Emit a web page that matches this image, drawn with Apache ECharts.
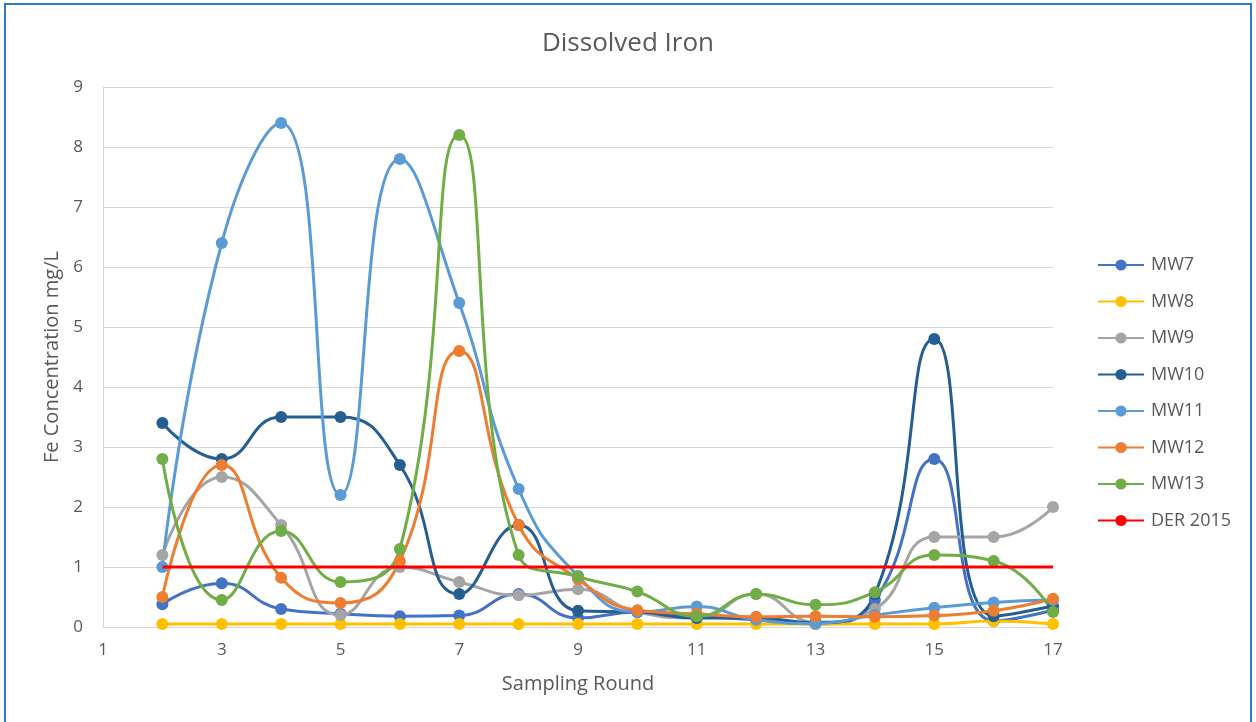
<!DOCTYPE html>
<html>
<head>
<meta charset="utf-8">
<script src="https://cdn.jsdelivr.net/npm/echarts@6/dist/echarts.min.js"></script>
<style>
html,body{margin:0;padding:0;background:#fff;}
#chart{width:1256px;height:722px;}
</style>
</head>
<body>
<div id="chart"></div>
<script>
// Data
var rounds = [2, 3, 4, 5, 6, 7, 8, 9, 10, 11, 12, 13, 14, 15, 16, 17];
var mw7  = [0.38, 0.73, 0.30, 0.22, 0.18, 0.19, 0.55, 0.15, 0.25, 0.18, 0.12, 0.05, 0.45, 2.8, 0.10, 0.28];
var mw8  = [0.05, 0.05, 0.05, 0.05, 0.05, 0.05, 0.05, 0.05, 0.05, 0.05, 0.05, 0.05, 0.05, 0.05, 0.10, 0.05];
var mw9  = [1.2, 2.5, 1.7, 0.2, 1.0, 0.75, 0.53, 0.63, 0.25, 0.15, 0.55, 0.08, 0.3, 1.5, 1.5, 2.0];
var mw10 = [3.4, 2.8, 3.5, 3.5, 2.7, 0.55, 1.7, 0.27, 0.25, 0.15, 0.15, 0.07, 0.55, 4.8, 0.18, 0.35];
var mw11 = [1.0, 6.4, 8.4, 2.2, 7.8, 5.4, 2.3, 0.85, 0.25, 0.34, 0.12, 0.06, 0.2, 0.32, 0.41, 0.45];
var mw12 = [0.5, 2.7, 0.82, 0.4, 1.1, 4.6, 1.7, 0.8, 0.28, 0.22, 0.17, 0.18, 0.17, 0.19, 0.27, 0.47];
var mw13 = [2.8, 0.45, 1.6, 0.75, 1.3, 8.2, 1.2, 0.84, 0.59, 0.18, 0.55, 0.37, 0.58, 1.2, 1.1, 0.25];
var der2015 = [1, 1, 1, 1, 1, 1, 1, 1, 1, 1, 1, 1, 1, 1, 1, 1];
var seriesNames = ['MW7', 'MW8', 'MW9', 'MW10', 'MW11', 'MW12', 'MW13', 'DER 2015'];
var xTicks = [1, 3, 5, 7, 9, 11, 13, 15, 17];

var colors = ['#4472C4', '#FFC000', '#A5A5A5', '#255E91', '#5B9BD5', '#ED7D31', '#70AD47', '#FF0000'];
var seriesData = [mw7, mw8, mw9, mw10, mw11, mw12, mw13, der2015];

function pairs(vals) {
  return rounds.map(function (r, i) { return [r, vals[i]]; });
}

var FONT = '"Open Sans", "Noto Sans", sans-serif';
var series = seriesData.map(function (vals, i) {
  var isRef = i === 7;
  return {
    name: seriesNames[i],
    type: 'line',
    data: pairs(vals),
    smooth: isRef ? false : 0.5,
    showSymbol: !isRef,
    symbol: isRef ? 'none' : 'circle',
    symbolSize: 12,
    lineStyle: { width: 3, color: colors[i] },
    itemStyle: { color: colors[i] },
    z: isRef ? 3 : 2,
    emphasis: { disabled: true },
    animation: false
  };
});

var chart = echarts.init(document.getElementById('chart'), null, { renderer: 'canvas' });
chart.setOption({
  backgroundColor: '#ffffff',
  animation: false,
  color: colors,
  title: {
    text: 'Dissolved Iron',
    left: 'center',
    top: 26,
    textStyle: { fontFamily: FONT, fontSize: 26, fontWeight: 'normal', color: '#595959' }
  },
  graphic: [{
    type: 'rect',
    shape: { x: 5, y: 4, width: 1246, height: 730 },
    style: { fill: 'none', stroke: '#2F7BC8', lineWidth: 2 },
    silent: true
  }],
  grid: { left: 103, right: 203, top: 87, bottom: 95, containLabel: false },
  legend: {
    orient: 'vertical',
    left: 1092,
    top: 251,
    itemGap: 18.5,
    itemWidth: 46,
    itemHeight: 14,
    data: seriesNames,
    textStyle: { fontFamily: FONT, fontSize: 18, color: '#595959', padding: [0, 0, 0, 2] }
  },
  xAxis: {
    type: 'value',
    min: 1,
    max: 17,
    interval: 2,
    name: 'Sampling Round',
    nameLocation: 'middle',
    nameGap: 47,
    nameTextStyle: { fontFamily: FONT, fontSize: 20, color: '#595959' },
    axisLine: { show: true, lineStyle: { color: '#D9D9D9', width: 1 } },
    axisTick: { show: false },
    splitLine: { show: false },
    axisLabel: {
      fontFamily: FONT, fontSize: 17, color: '#595959', margin: 15,
      formatter: function (v) { return xTicks.indexOf(v) >= 0 ? String(v) : ''; }
    }
  },
  yAxis: {
    type: 'value',
    min: 0,
    max: 9,
    interval: 1,
    name: 'Fe Concentration mg/L',
    nameLocation: 'middle',
    nameGap: 38,
    nameTextStyle: { fontFamily: FONT, fontSize: 20, color: '#595959' },
    axisLine: { show: true, lineStyle: { color: '#D9D9D9', width: 1 } },
    axisTick: { show: false },
    splitLine: { show: true, lineStyle: { color: '#D9D9D9', width: 1 } },
    axisLabel: { fontFamily: FONT, fontSize: 17, color: '#595959', margin: 20 }
  },
  series: series
});
</script>
</body>
</html>
